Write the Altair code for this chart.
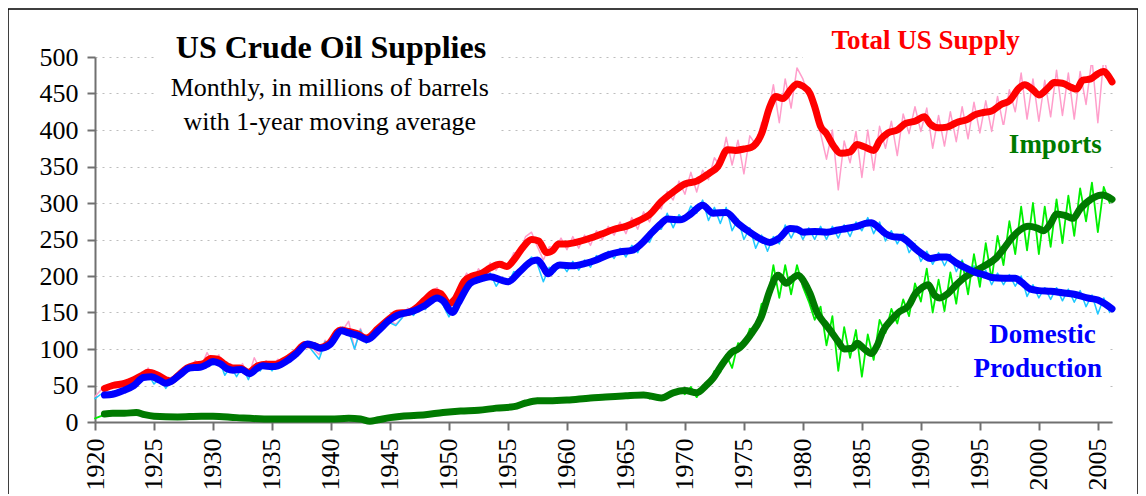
import altair as alt
import pandas as pd

# ---------------- data ----------------
# raw monthly series, sampled twice a year (Jan, Jul) from 1920.0 to 2006.0
raw_years = [1920 + 0.5 * i for i in range(173)]

total_raw = [
    35, 44, 44, 53, 48, 56, 54, 62, 62, 74, 60, 66, 50, 62, 60, 74, 72, 84, 76, 95,
    80, 92, 70, 80, 68, 80, 62, 88, 72, 84, 74, 86, 78, 92, 90, 108, 110, 100, 92, 112,
    104, 124, 126, 138, 100, 128, 108, 124, 122, 136, 138, 134, 142, 156, 150, 164, 160, 178, 184, 166,
    154, 176, 186, 204, 192, 210, 200, 218, 208, 220, 214, 232, 232, 254, 260, 240, 222, 240, 238, 252,
    236, 254, 238, 256, 242, 262, 250, 268, 256, 274, 258, 280, 264, 288, 274, 298, 292, 316, 304, 330,
    312, 342, 315, 345, 332, 362, 350, 390, 352, 386, 340, 392, 380, 410, 418, 462, 410, 470, 430, 485,
    470, 445, 435, 395, 360, 400, 318, 385, 355, 398, 335, 400, 345, 405, 375, 412, 365, 422, 395, 432,
    398, 430, 375, 420, 378, 425, 384, 432, 388, 438, 396, 440, 398, 446, 405, 455, 425, 478, 415, 470,
    412, 468, 418, 482, 420, 478, 415, 480, 435, 498, 410, 498, 468]

domestic_raw = [
    32, 38, 34, 42, 38, 48, 46, 56, 58, 66, 52, 60, 46, 58, 62, 72, 70, 80, 72, 86,
    78, 86, 64, 76, 62, 76, 58, 78, 70, 80, 70, 80, 78, 88, 88, 102, 106, 96, 86, 110,
    104, 120, 130, 124, 100, 126, 108, 120, 122, 132, 136, 132, 142, 152, 146, 158, 154, 168, 170, 160,
    144, 162, 182, 196, 188, 200, 194, 204, 186, 198, 190, 206, 204, 216, 226, 216, 192, 212, 206, 218,
    206, 220, 208, 222, 212, 228, 222, 234, 224, 238, 226, 242, 232, 252, 246, 264, 264, 286, 266, 284,
    276, 296, 286, 304, 276, 294, 272, 294, 262, 278, 250, 266, 238, 256, 234, 254, 244, 270, 252, 268,
    250, 266, 250, 268, 250, 268, 252, 270, 254, 274, 262, 280, 258, 274, 248, 262, 244, 258, 232, 244,
    220, 234, 216, 232, 214, 230, 206, 222, 198, 214, 194, 208, 188, 204, 188, 202, 186, 200, 172, 188,
    170, 184, 168, 184, 166, 182, 164, 180, 158, 174, 148, 170, 150]

imports_raw = [
    5, 8, 12, 14, 10, 14, 15, 12, 10, 11, 8, 9, 6, 8, 7, 8, 6, 8, 8, 9,
    8, 9, 7, 6, 5, 7, 5, 4, 4, 3, 3, 4, 3, 4, 4, 3, 3, 4, 4, 3,
    4, 5, 4, 6, 4, 3, 1, 2, 3, 4, 6, 7, 7, 9, 8, 10, 10, 12, 12, 14,
    13, 16, 14, 16, 15, 18, 17, 20, 18, 21, 20, 23, 24, 28, 27, 32, 26, 31, 28, 32,
    28, 32, 30, 35, 31, 36, 32, 36, 33, 38, 34, 39, 35, 40, 32, 37, 31, 36, 38, 45,
    38, 48, 34, 48, 50, 70, 68, 92, 74, 108, 104, 128, 126, 162, 165, 215, 170, 215, 175, 215,
    185, 165, 140, 158, 105, 145, 70, 130, 88, 126, 62, 120, 85, 140, 122, 155, 135, 168, 145, 190,
    165, 210, 150, 195, 152, 205, 162, 220, 175, 230, 185, 245, 195, 255, 215, 275, 230, 295, 235, 300,
    230, 295, 240, 305, 245, 310, 255, 320, 275, 328, 260, 322, 300]

# 1-year moving averages
total_ma_years = [
    1920.8, 1921.5, 1922.5, 1923.3, 1924.0, 1924.5, 1925.2, 1926.0, 1926.4, 1927.0, 1927.8, 1928.5,
    1929.2, 1929.8, 1930.4, 1931.0, 1931.7, 1932.3, 1933.0, 1933.8, 1934.5, 1935.3, 1936.0, 1937.0,
    1937.8, 1938.5, 1939.1, 1939.8, 1940.8, 1941.5, 1942.2, 1943.0, 1944.0, 1945.0, 1945.6, 1946.5,
    1947.2, 1948.0, 1948.8, 1949.3, 1950.0, 1950.5, 1951.3, 1952.0, 1952.8, 1953.5, 1954.3, 1954.9,
    1955.5, 1956.3, 1957.0, 1957.6, 1958.3, 1958.8, 1959.3, 1960.0, 1961.0, 1962.0, 1963.0, 1964.0,
    1965.0, 1966.0, 1967.0, 1968.0, 1969.0, 1970.0, 1971.0, 1972.0, 1972.8, 1973.6, 1974.3, 1975.0,
    1975.6, 1976.5, 1977.2, 1977.7, 1978.3, 1979.0, 1979.5, 1980.0, 1980.6, 1981.0, 1981.5, 1982.0,
    1982.6, 1983.2, 1984.0, 1984.6, 1985.2, 1986.0, 1986.5, 1987.2, 1988.0, 1988.7, 1989.5, 1990.3,
    1990.8, 1991.5, 1992.2, 1993.0, 1994.0, 1994.6, 1995.3, 1996.0, 1996.8, 1997.5, 1998.3, 1998.8,
    1999.5, 2000.0, 2000.8, 2001.3, 2002.0, 2002.8, 2003.2, 2003.7, 2004.4, 2005.0, 2005.5, 2005.9,
    2006.2]
total_ma = [
    46, 50, 53, 58, 64, 68, 65, 58, 56, 63, 74, 78,
    80, 87, 86, 79, 74, 74, 68, 77, 79, 79, 84, 95,
    106, 105, 102, 107, 126, 124, 121, 115, 128, 142, 149, 150,
    156, 168, 178, 176, 162, 168, 193, 200, 204, 211, 216, 213,
    222, 240, 250, 248, 232, 235, 244, 244, 247, 252, 258, 264,
    268, 275, 284, 302, 315, 326, 330, 340, 350, 373, 372, 374,
    376, 395, 432, 446, 443, 456, 463, 460, 450, 432, 405, 395,
    378, 368, 370, 380, 377, 372, 385, 396, 400, 409, 412, 418,
    408, 403, 404, 410, 415, 421, 424, 426, 435, 440, 457, 462,
    455, 448, 458, 465, 464, 458, 456, 468, 470, 477, 480, 474,
    466]

domestic_ma_years = [
    1920.8, 1921.5, 1922.4, 1923.3, 1924.1, 1924.8, 1925.5, 1926.0, 1926.5, 1927.3, 1928.0, 1928.9,
    1929.5, 1930.0, 1930.6, 1931.2, 1931.7, 1932.4, 1933.1, 1933.7, 1934.2, 1935.0, 1935.5, 1936.3,
    1937.1, 1938.0, 1938.5, 1939.1, 1939.9, 1940.9, 1941.5, 1942.2, 1943.1, 1944.0, 1945.0, 1945.6,
    1947.0, 1948.0, 1949.0, 1949.5, 1950.3, 1950.8, 1951.8, 1952.5, 1953.5, 1954.5, 1955.0, 1956.0,
    1957.0, 1957.5, 1958.0, 1958.4, 1959.0, 1959.4, 1960.5, 1961.5, 1962.5, 1963.5, 1964.5, 1965.5,
    1966.3, 1967.0, 1968.0, 1968.5, 1969.6, 1970.5, 1971.5, 1972.4, 1973.5, 1974.5, 1975.5, 1976.5,
    1977.2, 1978.0, 1978.9, 1979.5, 1980.0, 1981.0, 1982.0, 1983.0, 1983.7, 1984.6, 1985.3, 1985.8,
    1986.3, 1987.0, 1987.6, 1988.3, 1988.9, 1989.5, 1990.3, 1990.8, 1991.6, 1992.2, 1993.0, 1994.2,
    1994.8, 1995.3, 1996.0, 1997.0, 1998.0, 1998.5, 1999.3, 2000.0, 2001.0, 2002.0, 2003.0, 2004.1,
    2005.0, 2005.6, 2006.2]
domestic_ma = [
    37, 38, 43, 50, 61, 62, 57, 53, 56, 66, 74, 75,
    79, 83, 80, 73, 71, 72, 66, 73, 77, 76, 77, 84,
    94, 107, 105, 101, 106, 125, 122, 119, 113, 125, 140, 146,
    152, 160, 170, 166, 150, 163, 190, 195, 199, 194, 192, 206,
    220, 222, 212, 203, 212, 215, 214, 217, 222, 229, 233, 235,
    244, 256, 272, 278, 277, 285, 297, 286, 287, 272, 260, 250,
    246, 252, 265, 264, 260, 261, 260, 263, 265, 268, 272, 273,
    268, 258, 254, 253, 247, 238, 228, 224, 226, 226, 218, 208,
    204, 202, 198, 197, 197, 192, 182, 180, 179, 177, 175, 170,
    167, 162, 155]

imports_ma_years = [
    1920.8, 1921.5, 1922.5, 1923.5, 1924.2, 1925.0, 1927.0, 1929.0, 1930.0, 1932.0, 1935.0, 1938.0,
    1940.0, 1941.5, 1942.5, 1943.3, 1944.0, 1945.0, 1946.0, 1948.0, 1949.5, 1951.0, 1952.5, 1954.0,
    1955.5, 1956.5, 1957.5, 1958.5, 1960.0, 1962.0, 1963.0, 1965.0, 1966.5, 1968.0, 1969.0, 1970.0,
    1971.0, 1971.8, 1972.4, 1973.0, 1974.0, 1974.5, 1975.5, 1976.5, 1977.2, 1977.9, 1978.6, 1979.0,
    1979.6, 1980.1, 1980.6, 1981.2, 1981.8, 1982.3, 1983.0, 1983.5, 1984.2, 1984.6, 1985.2, 1985.8,
    1986.3, 1986.8, 1987.5, 1988.1, 1989.0, 1989.5, 1990.1, 1990.6, 1991.2, 1991.6, 1992.3, 1993.0,
    1993.7, 1994.4, 1995.3, 1996.4, 1997.0, 1997.7, 1998.4, 1999.1, 1999.8, 2000.4, 2001.0, 2001.5,
    2002.2, 2002.9, 2003.5, 2004.0, 2004.6, 2005.4, 2006.2]
imports_ma = [
    11, 12, 12, 13, 10, 8, 7, 8, 8, 6, 4, 4,
    4, 5, 4, 1, 3, 6, 8, 10, 13, 15, 16, 19,
    21, 26, 29, 29, 30, 33, 34, 36, 37, 33, 40, 43,
    40, 50, 60, 75, 96, 100, 118, 145, 180, 201, 190, 195,
    201, 192, 176, 150, 136, 126, 110, 100, 101, 108, 100, 94,
    105, 125, 140, 150, 160, 175, 184, 188, 173, 170, 176, 188,
    198, 205, 213, 225, 237, 252, 263, 268, 266, 262, 272, 285,
    283, 279, 292, 300, 307, 311, 305]

tick_years = list(range(1920, 2006, 5))
y_ticks = list(range(0, 501, 50))

# annotation texts
title_lines = ["US Crude Oil Supplies"]
subtitle_lines = ["Monthly, in millions of barrels", "with 1-year moving average"]
series_labels = ["Total US Supply", "Imports", "Domestic", "Production"]

# ---------------- chart ----------------
SERIF = "Liberation Serif"
X_DOMAIN = [1920, 2006.2]
X_SCALE = alt.Scale(domain=X_DOMAIN, nice=False, zero=False)
Y_SCALE = alt.Scale(domain=[0, 500], nice=False)

X_AXIS = alt.Axis(values=tick_years, format="d", labelAngle=-90, grid=False,
                  title=None, labelPadding=8, labelFontSize=26, labelOverlap=False,
                  domainColor="#707070", tickColor="#707070")
Y_AXIS = alt.Axis(values=y_ticks, grid=True, title=None, labelPadding=9,
                  labelFontSize=26, labelOverlap=False, tickCount=11,
                  gridColor="#BDBDBD", gridDash=[2, 5],
                  domainColor="#707070", tickColor="#707070")


def xy():
    return dict(x=alt.X("year:Q", scale=X_SCALE, axis=X_AXIS),
                y=alt.Y("value:Q", scale=Y_SCALE, axis=Y_AXIS))


def line(xs, ys, color, width, interp="linear"):
    df = pd.DataFrame({"year": xs, "value": ys})
    return alt.Chart(df).mark_line(color=color, strokeWidth=width, interpolate=interp,
                                   strokeCap="round", strokeJoin="round").encode(**xy())


def label(texts, years, values, size, weight, color):
    df = pd.DataFrame({"year": years, "value": values, "text": texts})
    return alt.Chart(df).mark_text(font=SERIF, fontSize=size, fontWeight=weight, color=color,
                                   baseline="alphabetic", align="center").encode(
        text="text:N", **xy())


one = pd.DataFrame({"k": [0]})

# frame around the whole figure
frame = alt.Chart(one).mark_rect(filled=False, stroke="black", strokeWidth=1.5).encode(
    x=alt.value(-87), x2=alt.value(1043), y=alt.value(-48), y2=alt.value(480))

# white boxes behind the annotations (hide grid lines there)
boxes = pd.DataFrame({
    "x0": [62, 708, 903, 868],
    "x1": [402, 1022, 1013, 1013],
    "y0": [-30, -40, 68, 268],
    "y1": [85, 8, 113, 338],
})
white = alt.Chart(boxes).mark_rect(color="white").encode(
    x=alt.X("x0:Q", scale=None, axis=None), x2="x1:Q",
    y=alt.Y("y0:Q", scale=None, axis=None), y2="y1:Q")

raw_total = line(raw_years, total_raw, "#FF9ECB", 1.5)
raw_dom = line(raw_years, domestic_raw, "#1EC8FF", 1.5)
raw_imp = line(raw_years, imports_raw, "#00F000", 1.8)
ma_total = line(total_ma_years, total_ma, "#FF0000", 7, "monotone")
ma_imp = line(imports_ma_years, imports_ma, "#007A00", 7, "monotone")
ma_dom = line(domestic_ma_years, domestic_ma, "#0000FF", 7, "monotone")

t_title = label(title_lines, [1940.0], [498], 32, "bold", "#000000")
t_sub = label(subtitle_lines, [1939.9, 1939.9], [446, 400], 26, "normal", "#000000")
t_total = label(series_labels[:1], [1990.4], [511], 27, "bold", "#FF0000")
t_imp = label(series_labels[1:2], [2001.4], [368], 27, "bold", "#007A00")
t_dom = label(series_labels[2:], [2000.3, 1999.9], [108, 62], 27, "bold", "#0000FF")

chart = alt.layer(
    raw_total, white, raw_dom, raw_imp, ma_total, ma_imp, ma_dom,
    t_title, t_sub, t_total, t_imp, t_dom, frame
).properties(
    width=1017, height=365, background="white",
    autosize=alt.AutoSizeParams(type="none"),
    padding={"left": 87, "top": 49, "right": 26, "bottom": 72},
).configure_view(stroke=None).configure_axis(
    labelFont=SERIF, labelColor="black", domainWidth=2, tickWidth=2, tickSize=8,
    gridWidth=1,
)

chart.save("out.html", embed_options={"renderer": "svg", "actions": False})
